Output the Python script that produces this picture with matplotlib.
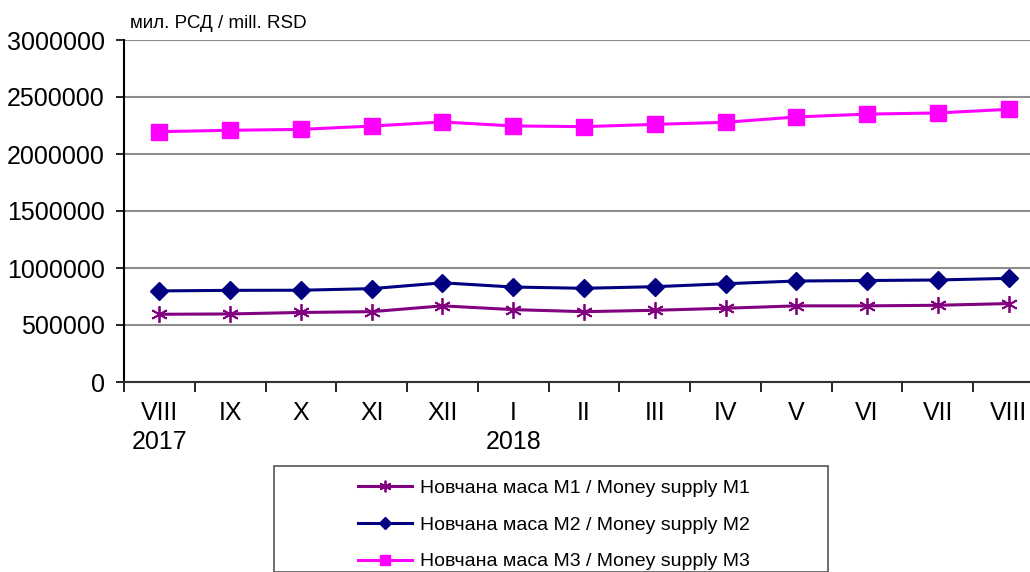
import matplotlib.pyplot as plt
from matplotlib.patches import Rectangle

plt.rcParams['font.family'] = ['Liberation Sans', 'DejaVu Sans']

# Data (mill. RSD)
months = ['VIII\n2017', 'IX', 'X', 'XI', 'XII', 'I\n2018', 'II', 'III', 'IV', 'V', 'VI', 'VII', 'VIII']
m1 = [594000, 597000, 610000, 617000, 668000, 635000, 617000, 629000, 647000, 668000, 668000, 673000, 688000]
m2 = [799000, 804000, 805000, 819000, 870000, 833000, 822000, 836000, 862000, 886000, 890000, 895000, 909000]
m3 = [2196000, 2208000, 2216000, 2245000, 2281000, 2246000, 2240000, 2260000, 2278000, 2325000, 2350000, 2360000, 2392000]

labels = ['Новчана маса М1 / Money supply M1',
          'Новчана маса М2 / Money supply M2',
          'Новчана маса М3 / Money supply M3']

W, H = 1030, 572
fig = plt.figure(figsize=(W / 100, H / 100), dpi=100)
ax = fig.add_axes([124 / W, (H - 382) / H, (1044 - 124) / W, (382 - 40) / H])

x = range(len(months))
ax.plot(x, m1, color='#800080', lw=2.2, marker=(6, 2, 0), ms=12, mew=1.3, label=labels[0])
ax.plot(x, m2, color='#000080', lw=2.2, marker='D', ms=9, label=labels[1])
ax.plot(x, m3, color='#ff00ff', lw=2.2, marker='s', ms=11, label=labels[2])

ax.set_xlim(-0.5, len(months) - 0.5)
ax.set_ylim(0, 3000000)
ax.set_yticks(range(0, 3000001, 500000))
ax.set_yticklabels([str(v) for v in range(0, 3000001, 500000)], fontsize=18)
ax.set_xticks([i - 0.5 for i in x], minor=False)
ax.set_xticklabels([])
ax.set_xticks(list(x), minor=True)
ax.set_xticklabels(months, minor=True, fontsize=18, linespacing=1.25)
ax.tick_params(axis='x', which='minor', length=0, pad=14)
ax.tick_params(axis='x', which='major', length=7, width=1.2)
ax.tick_params(axis='y', length=6, width=1.2, pad=8)

ax.grid(axis='y', color='#8c8c8c', lw=1.5)
for s in ['top', 'right']:
    ax.spines[s].set_visible(False)
ax.spines['left'].set_linewidth(1.5)
ax.spines['bottom'].set_linewidth(1.5)
ax.spines['bottom'].set_color('#333333')

fig.text(130 / W, 1 - 24 / H, 'мил. РСД / mill. RSD', fontsize=13.5, va='center', ha='left')

# legend box
fig.patches.append(Rectangle((274 / W, 0), (828 - 274) / W, (H - 466) / H,
                             transform=fig.transFigure, fill=False,
                             edgecolor='#555555', lw=1.2))
handles, labs = ax.get_legend_handles_labels()
leg = fig.legend(handles, labs, loc='upper left', bbox_to_anchor=(340 / W, 1 - 462 / H),
                 frameon=False, fontsize=14, handlelength=2.8, handletextpad=0.4,
                 labelspacing=0.98, markerscale=0.7)

fig.savefig('out.png', dpi=100)
